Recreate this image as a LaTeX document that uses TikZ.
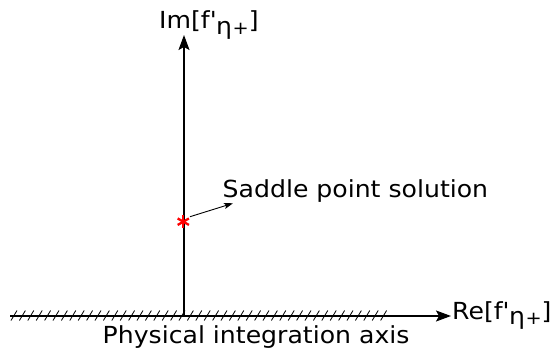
\documentclass[tikz,border=0pt]{standalone}
\usepackage{fontspec}
\setmainfont[FakeStretch=1.07]{DejaVu Sans}
\usetikzlibrary{arrows.meta,calc}
\newcommand{\etaplus}{\raisebox{-0.45ex}{η\kern0.5pt{\fontsize{18}{18}\selectfont +}}}
\begin{document}
\begin{tikzpicture}[x=1pt,y=1pt,
  axis/.style={line width=1.3pt,-{Stealth[length=15pt,width=11pt,inset=3pt]}},
  lbl/.style={font=\fontsize{23.5}{27}\selectfont,inner sep=0pt},
  hatch/.style={line width=0.8pt}]
\useasboundingbox (0,0) rectangle (555,349);
\coordinate (O) at (184,33);
\coordinate (L) at (10,33);
\coordinate (R) at (451,33);
\coordinate (T) at (184,314);
\draw[axis] (L) -- (R);
\draw[axis] (O) -- (T);
\foreach \x in {14,22.4,...,390} \draw[hatch] (\x-3,28.5) -- (\x+3,38.5);
\node[lbl,anchor=base west] (re) at (452,30) {Re[f\textquotesingle\etaplus]};
\node[lbl,anchor=base west] (im) at (159,320) {Im[f\textquotesingle\etaplus]};
\node[lbl,anchor=base west] (phys) at (102.5,5.5) {Physical integration axis};
\node[lbl,anchor=base west] (sad) at (222.5,151.7) {Saddle point solution};
\coordinate (S) at (183.3,127.3);
\foreach \a in {90,30,150} \draw[red,line width=2.3pt] ($(S)+(\a:6.5)$) -- ($(S)+(\a+180:6.5)$);
\coordinate (B) at (190,132.3);
\coordinate (A) at (233,145.7);
\draw[line width=0.9pt,-{Stealth[length=9pt,width=6pt,inset=2pt]}] (B) -- (A);
\end{tikzpicture}
\end{document}
